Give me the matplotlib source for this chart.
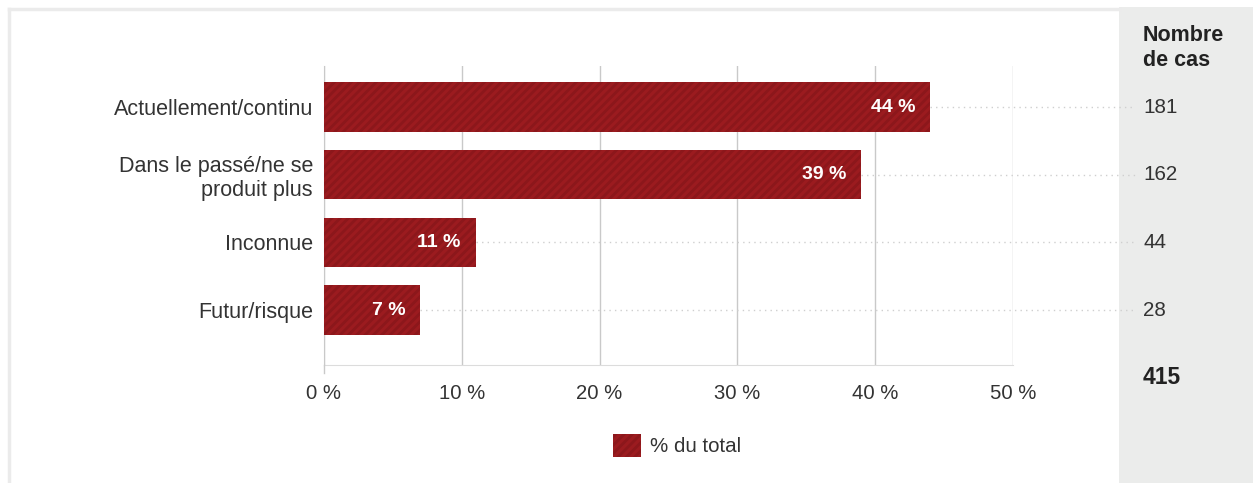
import matplotlib.pyplot as plt
from matplotlib.patches import Rectangle
from matplotlib.lines import Line2D

plt.rcParams['font.family'] = ['Liberation Sans', 'DejaVu Sans']
plt.rcParams['hatch.linewidth'] = 2.0

categories = ['Actuellement/continu', 'Dans le passé/ne se\nproduit plus', 'Inconnue', 'Futur/risque']
pct = [44, 39, 11, 7]
cases = [181, 162, 44, 28]
total = 415
xticks = [0, 10, 20, 30, 40, 50]

red = '#9b1b1f'
stripe = '#8c171b'
text_col = '#333333'
grid_col = '#c9c9c9'

W, H = 1253, 483
fig = plt.figure(figsize=(W / 100, H / 100), dpi=100)

# grey column on the right and thin frame on top / left
fig.patches.append(Rectangle((1119 / W, 0), (W - 1119) / W, 1 - 7 / H, transform=fig.transFigure,
                             facecolor='#ebeceb', edgecolor='none', zorder=-2))
fig.add_artist(Line2D([8.5 / W, 1119 / W], [1 - 8.5 / H, 1 - 8.5 / H], color='#ebebeb', linewidth=2.5, zorder=-1))
fig.add_artist(Line2D([8.5 / W, 8.5 / W], [0, 1 - 8.5 / H], color='#ebebeb', linewidth=2.5, zorder=-1))

ax = fig.add_axes([324 / W, 1 - 365 / H, (1013 - 324) / W, (365 - 66) / H])
ax.patch.set_alpha(0)

y = list(range(len(categories)))
bars = ax.barh(y, pct, height=0.73, color=red, edgecolor=stripe, hatch='////', linewidth=0, zorder=3)

ax.set_xlim(0, 50)
ax.set_ylim(3.81, -0.606)
ax.set_xticks(xticks)
ax.set_xticklabels([f'{t} %' for t in xticks], fontsize=14.6, color=text_col)
ax.set_yticks(y)
ax.set_yticklabels(categories, fontsize=15.5, color=text_col, linespacing=1.2)
ax.tick_params(axis='both', length=0)
ax.tick_params(axis='y', pad=8)
ax.tick_params(axis='x', pad=14)

ax.grid(axis='x', color=grid_col, linewidth=1, zorder=1)
for s in ['top', 'right']:
    ax.spines[s].set_visible(False)
ax.spines['left'].set_color(grid_col)
ax.spines['bottom'].set_color('#dcdcdc')
# the zero line runs a little below the axis
fig.add_artist(Line2D([324 / W, 324 / W], [1 - 373 / H, 1 - 365 / H], color=grid_col, linewidth=1))

px_per_pct = (1013 - 324) / 50
x_end = (1135 - 324) / px_per_pct

for yi, v, n in zip(y, pct, cases):
    ax.text(v - 15 / px_per_pct, yi, f'{v} %', color='white', fontsize=14, fontweight='bold',
            ha='right', va='center', zorder=4)
    ax.plot([v, x_end], [yi, yi], color='#cfcfcf', linestyle=(0, (1, 3)), linewidth=1,
            clip_on=False, zorder=2)
    ax.text(x_end + 8 / px_per_pct, yi, str(n), fontsize=14.9, color=text_col, va='center',
            clip_on=False)

fig.text(1143 / W, 1 - 48 / H, 'Nombre\nde cas', fontsize=15.5, fontweight='bold', color='#222222',
         va='center', ha='left', linespacing=1.3)
fig.text(1143 / W, 1 - 377 / H, str(total), fontsize=16.5, fontweight='bold', color='#222222',
         va='center', ha='left')

# legend
fig.patches.append(Rectangle((613 / W, 1 - 457 / H), 28 / W, 23 / H, transform=fig.transFigure,
                             facecolor=red, edgecolor=stripe, hatch='////', linewidth=0))
fig.text(650 / W, 1 - 447 / H, '% du total', fontsize=14.8, color=text_col, va='center', ha='left')

fig.savefig('out.png', dpi=100)
